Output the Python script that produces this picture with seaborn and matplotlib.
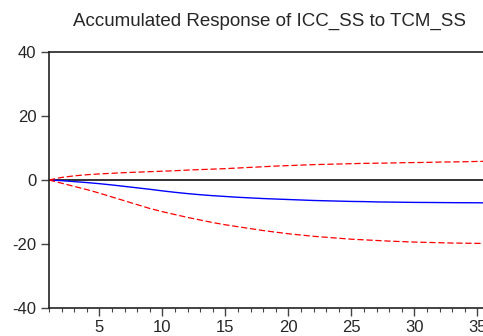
import numpy as np
import pandas as pd
import matplotlib
matplotlib.use("Agg")
import matplotlib.pyplot as plt
from matplotlib.ticker import MultipleLocator
import seaborn as sns

# accumulated impulse response, periods 1..36
periods = list(range(1, 37))
response = [0.0, -0.2, -0.5, -0.8, -1.15, -1.55, -2.0, -2.45, -2.9, -3.4,
            -3.85, -4.25, -4.6, -4.9, -5.15, -5.4, -5.6, -5.8, -5.95, -6.1,
            -6.25, -6.4, -6.5, -6.6, -6.7, -6.75, -6.85, -6.9, -6.95, -7.0,
            -7.02, -7.05, -7.08, -7.1, -7.12, -7.15]
upper_band = [0.0, 0.8, 1.3, 1.65, 1.9, 2.1, 2.3, 2.45, 2.6, 2.75,
              2.9, 3.1, 3.25, 3.4, 3.55, 3.75, 3.95, 4.15, 4.35, 4.5,
              4.65, 4.8, 4.9, 5.0, 5.1, 5.2, 5.25, 5.3, 5.4, 5.45,
              5.5, 5.6, 5.65, 5.7, 5.8, 5.85]
lower_band = [0.0, -1.0, -2.0, -3.0, -4.1, -5.3, -6.5, -7.7, -8.9, -9.9,
              -10.8, -11.7, -12.5, -13.3, -14.0, -14.6, -15.2, -15.8, -16.3, -16.8,
              -17.2, -17.6, -17.9, -18.2, -18.5, -18.7, -18.9, -19.1, -19.25, -19.4,
              -19.5, -19.6, -19.7, -19.75, -19.8, -19.85]
title = "Accumulated Response of ICC_SS to TCM_SS"

df = pd.DataFrame({"period": periods, "response": response,
                   "upper": upper_band, "lower": lower_band})

sns.set_style("white")
plt.rcParams['font.family'] = ['Liberation Sans', 'DejaVu Sans']
plt.rcParams['axes.unicode_minus'] = False

fig = plt.figure(figsize=(4.83, 3.36), dpi=100)
# axes run slightly past the right edge, like the cropped original
ax = fig.add_axes([49 / 483, 28 / 336, 441 / 483, 256 / 336])

ax.axhline(0, color='#222222', linewidth=1.3, zorder=1)
sns.lineplot(data=df, x="period", y="response", ax=ax, color='blue', linewidth=1.0)
sns.lineplot(data=df, x="period", y="upper", ax=ax, color='red', linewidth=0.9,
             linestyle=(0, (5, 2.2)))
sns.lineplot(data=df, x="period", y="lower", ax=ax, color='red', linewidth=0.9,
             linestyle=(0, (5, 2.2)))

ax.set_xlim(1, 36)
ax.set_ylim(-40, 40)
ax.set_yticks([-40, -20, 0, 20, 40])
ax.xaxis.set_major_locator(MultipleLocator(5))
ax.xaxis.set_minor_locator(MultipleLocator(1))
ax.set_xlabel("")
ax.set_ylabel("")

for side in ['left', 'bottom', 'top', 'right']:
    ax.spines[side].set_color('#222222')
    ax.spines[side].set_linewidth(1.2)
ax.tick_params(axis='both', which='major', direction='out', length=6, width=1,
               color='#444444', labelsize=12, pad=3, bottom=True, left=True)
ax.tick_params(axis='x', which='minor', direction='out', length=3, width=0.8,
               color='#444444', bottom=True)

ax.set_title(title, fontsize=13.5, pad=19)

fig.savefig("out.png", dpi=100)
